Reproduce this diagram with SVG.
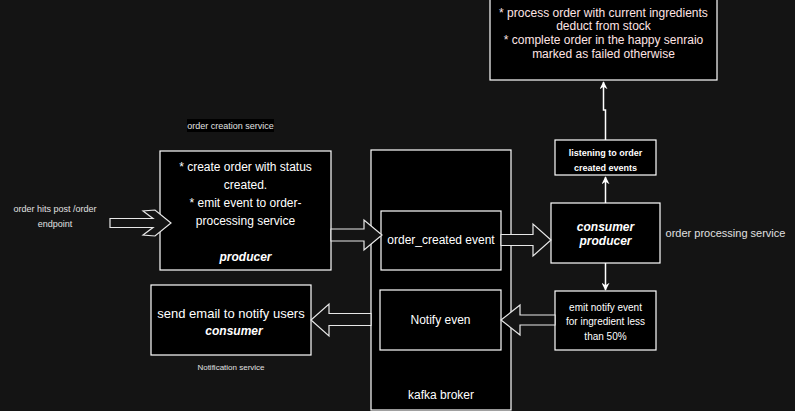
<svg xmlns="http://www.w3.org/2000/svg" width="795" height="411" viewBox="0 0 795 411">
<defs>
<style>
.box{fill:#000;stroke:#fff;stroke-width:1.2}
.t{font-family:"Liberation Sans",Arial,sans-serif;fill:#fff;text-anchor:middle}
.t12{font-size:12px}
.bi{font-weight:bold;font-style:italic}
.pink{fill:#ffe4e4}
.lbl{font-family:"Liberation Sans",Arial,sans-serif;fill:#e0e0e0;text-anchor:middle}
.flex{fill:#141414;stroke:#e8e8e8;stroke-width:1.2;stroke-linejoin:miter}
.line{fill:none;stroke:#fff;stroke-width:1.5}
</style>
<marker id="ah" viewBox="0 0 10 10" refX="9" refY="5" markerWidth="8" markerHeight="8" markerUnits="userSpaceOnUse" orient="auto">
<path d="M0,0 L10,5 L0,10 L3,5 Z" fill="#fff"/>
</marker>
</defs>
<rect width="795" height="411" fill="#141414"/>

<g id="top-box">
<rect class="box" x="490" y="-1" width="227" height="81"/>
<text class="t t12 pink" x="603.5" y="16.5">* process order with current ingredients</text>
<text class="t t12 pink" x="603.5" y="30">deduct from stock</text>
<text class="t t12 pink" x="603.5" y="44">* complete order in the happy senraio</text>
<text class="t t12 pink" x="603.5" y="58">marked as failed otherwise</text>
</g>

<g id="label-order-creation">
<rect x="187" y="119" width="87" height="13" fill="#000"/>
<text class="lbl" x="230.5" y="128.5" font-size="9">order creation service</text>
</g>

<g id="label-order-hits">
<text class="lbl" x="55" y="212" font-size="9">order hits post /order</text>
<text class="lbl" x="55" y="227" font-size="9">endpoint</text>
</g>

<g id="order-creation">
<rect class="box" x="160" y="151" width="171" height="119"/>
<text class="t t12" x="245.5" y="171">* create order with status</text>
<text class="t t12" x="245.5" y="189">created.</text>
<text class="t t12" x="245.5" y="207">* emit event to order-</text>
<text class="t t12" x="245.5" y="225">processing service</text>
<text class="t t12 bi" x="245.5" y="261">producer</text>
</g>

<g id="kafka-broker">
<rect class="box" x="371" y="150" width="140" height="260"/>
<text class="t t12" x="441" y="399">kafka broker</text>
</g>

<g id="order-created-event">
<rect class="box" x="381" y="211" width="120" height="59"/>
<text class="t t12" x="441" y="244">order_created event</text>
</g>

<g id="notify-event">
<rect class="box" x="380" y="290" width="121" height="60"/>
<text class="t t12" x="440.5" y="324">Notify even</text>
</g>

<g id="send-email">
<rect class="box" x="151" y="285" width="160" height="70"/>
<text class="t" x="231" y="317.5" font-size="13">send email to notify users</text>
<text class="t t12 bi" x="234" y="335">consumer</text>
</g>

<g id="label-notification">
<text class="lbl" x="231" y="370" font-size="8">Notification service</text>
</g>

<g id="listening">
<rect class="box" x="555" y="140" width="101" height="35"/>
<text class="t" x="605.5" y="156" font-size="9" font-weight="bold">listening to order</text>
<text class="t" x="605.5" y="170.5" font-size="9" font-weight="bold">created events</text>
</g>

<g id="consumer-producer">
<rect class="box" x="551" y="203" width="109" height="60"/>
<text class="t t12 bi" x="605.5" y="231">consumer</text>
<text class="t t12 bi" x="605.5" y="245">producer</text>
</g>

<g id="label-order-processing">
<text class="lbl" x="725.5" y="237" font-size="11">order processing service</text>
</g>

<g id="emit-notify">
<rect class="box" x="555" y="291" width="101" height="59"/>
<text class="t" x="605.5" y="310.5" font-size="10">emit notify event</text>
<text class="t" x="605.5" y="325" font-size="10">for ingredient less</text>
<text class="t" x="605.5" y="339.5" font-size="10">than 50%</text>
</g>

<g id="connectors">
<path class="flex" d="M110,218.5 L153,218.5 L143,211 L155,210 L171,223 L155,236 L143,235 L153,227.5 L110,227.5 Z"/>
<path class="flex" d="M331,229 L364,229 L364,220 L382,235 L364,250 L364,241 L331,241 Z"/>
<path class="flex" d="M501,234.5 L533,234.5 L533,224 L551,240 L533,256 L533,245.5 L501,245.5 Z"/>
<path class="flex" d="M555,315 L520,315 L520,305 L501,320 L520,335 L520,325 L555,325 Z"/>
<path class="flex" d="M371,313.5 L329,313.5 L329,304 L311,320 L329,336 L329,325.5 L371,325.5 Z"/>
<path class="line" d="M605.5,203 L605.5,177" marker-end="url(#ah)"/>
<path class="line" d="M605.5,140 L605.5,110 L603.5,110 L603.5,82" marker-end="url(#ah)"/>
<path class="line" d="M605.5,263 L605.5,290" marker-end="url(#ah)"/>
</g>
</svg>
